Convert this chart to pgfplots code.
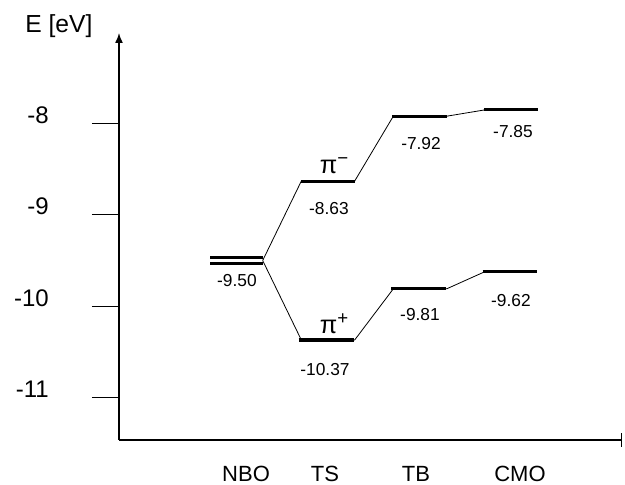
\documentclass[border=0pt]{standalone}
\usepackage{fontspec}
\setmainfont{Liberation Sans}
\usepackage{pgfplots}
\pgfplotsset{compat=1.18}
\usetikzlibrary{arrows.meta}

\newcommand{\orb}[1]{π\raisebox{6.5pt}{\fontsize{14}{16}\selectfont #1}}

\begin{document}
\begin{tikzpicture}[x=0.75pt,y=0.75pt]
\begin{axis}[
    name=ax,
    scale only axis,
    width=377.25pt, height=305.25pt,
    xmin=-1.272, xmax=4.196,
    ymin=-11.465, ymax=-7.009,
    axis lines=left,
    axis line style={line width=1.1pt},
    y axis line style={-{Latex[length=7.5pt,width=6pt]}},
    x axis line style={-{Bar[width=10pt,line width=1.1pt]}},
    tick align=outside,
    major tick length=20.25pt,
    ytick={-11,-10,-9,-8},
    yticklabels={-11,-10,-9,-8},
    ytick style={black, line width=0.8pt},
    yticklabel style={font=\fontsize{18}{20}\selectfont, anchor=base east, inner sep=0pt, xshift=-32.25pt},
    xtick={0.109,0.967,1.957,3.087},
    xticklabels={NBO,TS,TB,CMO},
    xtick style={draw=none},
    xticklabel style={font=\fontsize{16.5}{18}\selectfont, anchor=base, inner sep=0pt, yshift=-11.25pt},
    clip=false,
]
% connectors (upper and lower orbitals)
\addplot[black, line width=0.6pt] coordinates {(0.29,-9.5) (0.71,-8.63) (1.29,-8.63) (1.71,-7.92) (2.29,-7.92) (2.71,-7.85)};
\addplot[black, line width=0.6pt] coordinates {(0.29,-9.5) (0.71,-10.37) (1.29,-10.37) (1.71,-9.81) (2.29,-9.81) (2.71,-9.62)};
% NBO double level
\addplot[black, line width=1.8pt] coordinates {(-0.28,-9.467) (0.29,-9.467)};
\addplot[black, line width=1.8pt] coordinates {(-0.28,-9.533) (0.29,-9.533)};
% levels
\addplot[black, line width=2.3pt] coordinates {(0.71,-8.63) (1.29,-8.63)};
\addplot[black, line width=2.3pt] coordinates {(0.68,-10.37) (1.28,-10.37)};
\addplot[black, line width=2.3pt] coordinates {(1.70,-7.92) (2.29,-7.92)};
\addplot[black, line width=2.3pt] coordinates {(1.69,-9.81) (2.28,-9.81)};
\addplot[black, line width=2.3pt] coordinates {(2.70,-7.85) (3.28,-7.85)};
\addplot[black, line width=2.3pt] coordinates {(2.68,-9.62) (3.27,-9.62)};
% value labels
\begin{scope}[every node/.style={anchor=base, inner sep=0pt, font=\fontsize{13}{15}\selectfont}]
\node at (axis cs:0.01,-9.779) {-9.50};
\node at (axis cs:1.01,-8.991) {-8.63};
\node at (axis cs:0.967,-10.754) {-10.37};
\node at (axis cs:2.011,-8.290) {-7.92};
\node at (axis cs:3.011,-8.148) {-7.85};
\node at (axis cs:2.0,-10.152) {-9.81};
\node at (axis cs:2.989,-9.998) {-9.62};
\end{scope}
\node[anchor=base, inner sep=0pt, font=\fontsize{19}{21}\selectfont] at (axis cs:1.065,-8.542) {\orb{−}};
\node[anchor=base, inner sep=0pt, font=\fontsize{19}{21}\selectfont] at (axis cs:1.065,-10.294) {\orb{+}};
\node[anchor=base west, inner sep=0pt, font=\fontsize{18.5}{20}\selectfont, xshift=-70.5pt] at (rel axis cs:0,1) {E [eV]};
\end{axis}
\pgfresetboundingbox
\path (ax.south west) ++(-89.25pt,-33.75pt) rectangle ++(468.75pt,363.75pt);
\end{tikzpicture}
\end{document}
